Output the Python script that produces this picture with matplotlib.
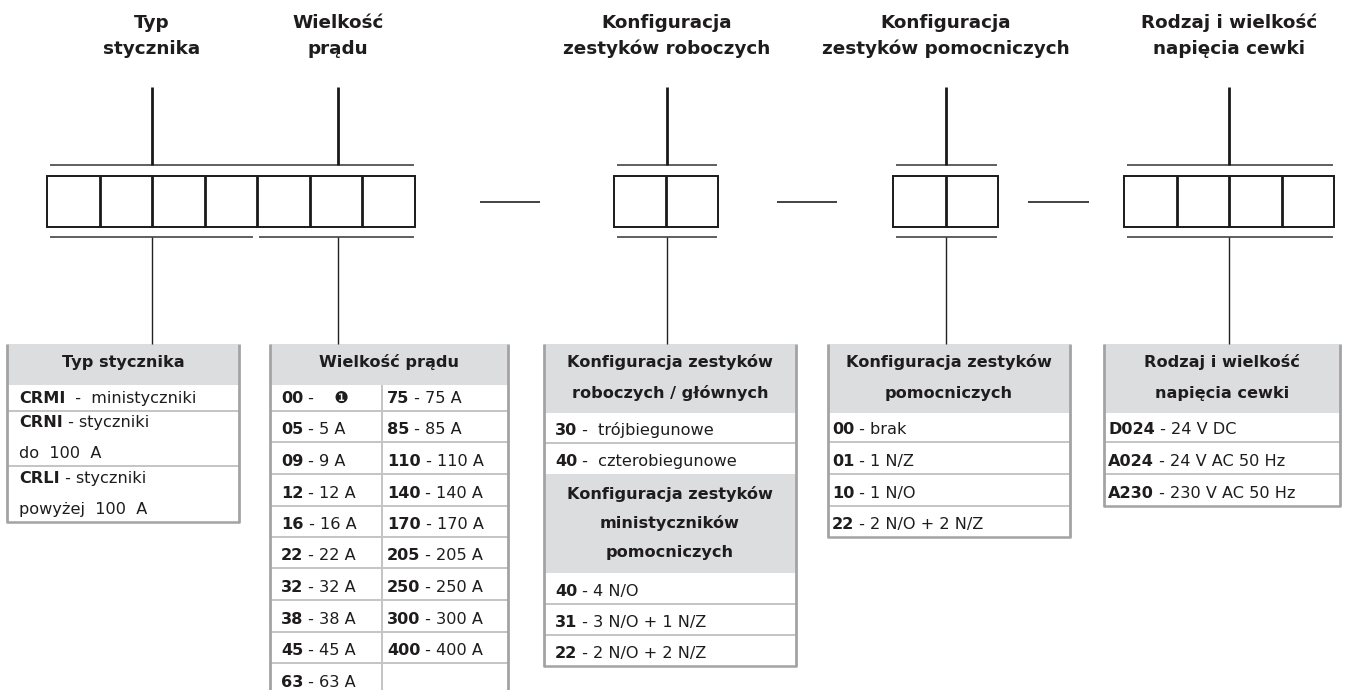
import matplotlib
matplotlib.use('Agg')
import matplotlib.pyplot as plt
from matplotlib.patches import Rectangle

# ---------------- data ----------------
segment_titles = [["Typ", "stycznika"],
                  ["Wielkość", "prądu"],
                  ["Konfiguracja", "zestyków roboczych"],
                  ["Konfiguracja", "zestyków pomocniczych"],
                  ["Rodzaj i wielkość", "napięcia cewki"]]

typ_header = ["Typ stycznika"]
typ_codes = ["CRMI", "CRNI", "CRLI"]
typ_desc = [["  -  ministyczniki"], [" - styczniki", "do  100  A"], [" - styczniki", "powyżej  100  A"]]

prad_header = ["Wielkość prądu"]
prad_codes_left = ["00", "05", "09", "12", "16", "22", "32", "38", "45", "63"]
prad_desc_left = [" -    ❶", " - 5 A", " - 9 A", " - 12 A", " - 16 A", " - 22 A", " - 32 A", " - 38 A", " - 45 A", " - 63 A"]
prad_codes_right = ["75", "85", "110", "140", "170", "205", "250", "300", "400"]
prad_desc_right = [" - 75 A", " - 85 A", " - 110 A", " - 140 A", " - 170 A", " - 205 A", " - 250 A", " - 300 A", " - 400 A"]

robocze_header = ["Konfiguracja zestyków", "roboczych / głównych"]
robocze_codes = ["30", "40"]
robocze_desc = [" -  trójbiegunowe", " -  czterobiegunowe"]
mini_header = ["Konfiguracja zestyków", "ministyczników", "pomocniczych"]
mini_codes = ["40", "31", "22"]
mini_desc = [" - 4 N/O", " - 3 N/O + 1 N/Z", " - 2 N/O + 2 N/Z"]

pomoc_header = ["Konfiguracja zestyków", "pomocniczych"]
pomoc_codes = ["00", "01", "10", "22"]
pomoc_desc = [" - brak", " - 1 N/Z", " - 1 N/O", " - 2 N/O + 2 N/Z"]

cewka_header = ["Rodzaj i wielkość", "napięcia cewki"]
cewka_codes = ["D024", "A024", "A230"]
cewka_desc = [" - 24 V DC", " - 24 V AC 50 Hz", " - 230 V AC 50 Hz"]

# ---------------- layout ----------------
W, H = 1345, 690
fig = plt.figure(figsize=(W / 100, H / 100), dpi=100)
ax = fig.add_axes([0, 0, 1, 1])
ax.set_xlim(0, W)
ax.set_ylim(H, 0)
ax.axis('off')
renderer = fig.canvas.get_renderer()

TXT = '#1f1c1d'
FAM = ['DejaVu Sans']
FS = 11.6
FS_TOP = 13.2
HDR_BG = '#dcdddf'
SIDE = '#a3a3a3'
SEP = '#c4c4c4'


def line(x0, y0, x1, y1, lw=1.0, c='#222222'):
    ax.plot([x0, x1], [y0, y1], color=c, lw=lw, solid_capstyle='butt')


def code_text(x, y, code, desc):
    t = ax.text(x, y, code, fontsize=FS, fontweight='bold', family=FAM, color=TXT,
                ha='left', va='baseline')
    w = t.get_window_extent(renderer).width
    ax.text(x + w, y, desc, fontsize=FS, family=FAM, color=TXT, ha='left', va='baseline')


def plain(x, y, s, bold=False, ha='left', fs=FS):
    ax.text(x, y, s, fontsize=fs, fontweight='bold' if bold else 'normal', family=FAM,
            color=TXT, ha=ha, va='baseline')


# ---- top labels ----
centers = [152, 338, 667, 946, 1229]
for cx, (l1, l2) in zip(centers, segment_titles):
    plain(cx, 28, l1, bold=True, ha='center', fs=FS_TOP)
    plain(cx, 54, l2, bold=True, ha='center', fs=FS_TOP)

# ---- box groups ----
groups = [(47, 7, 52.57), (614, 2, 52), (893, 2, 52.5), (1124, 4, 52.5)]
BY0, BY1 = 176, 227
for x0, n, w in groups:
    x1 = x0 + n * w
    ax.add_patch(Rectangle((x0, BY0), x1 - x0, BY1 - BY0, fill=False, ec='#1a1a1a', lw=1.4))
    for i in range(1, n):
        line(x0 + i * w, BY0, x0 + i * w, BY1, lw=2.0, c='#1a1a1a')
    line(x0 + 3, 165, x1 - 1, 165, lw=1.2, c='#444444')
    if n == 7:
        line(x0 + 3, 237, 253, 237, lw=1.2, c='#444444')
        line(259, 237, x1 - 1, 237, lw=1.2, c='#444444')
    else:
        line(x0 + 3, 237, x1 - 1, 237, lw=1.2, c='#444444')

# dashes between groups
for xa, xb in [(480, 540), (777, 837), (1028, 1089)]:
    line(xa, 202, xb, 202, lw=1.2, c='#222222')

# verticals
for cx in centers:
    line(cx, 87, cx, 165, lw=2.0, c='#1a1a1a')
    line(cx, 237, cx, 344, lw=1.0, c='#222222')

TOP = 344


def table_frame(x0, x1, bottom, headers, seps, draw_bottom=True):
    for (ya, yb) in headers:
        ax.add_patch(Rectangle((x0, ya), x1 - x0, yb - ya, fc=HDR_BG, ec='none'))
    for y in seps:
        line(x0, y, x1, y, lw=1.4, c=SEP)
    if draw_bottom:
        line(x0 - 1, bottom, x1 + 1, bottom, lw=1.8, c=SIDE)
    line(x0, TOP, x0, bottom, lw=2.0, c=SIDE)
    line(x1, TOP, x1, bottom, lw=2.0, c=SIDE)


# ---- table 1: Typ stycznika ----
T1 = (7, 239)
rows1 = [385, 411, 466, 522]
table_frame(T1[0], T1[1], rows1[-1], [(TOP, rows1[0])], rows1[1:-1])
plain((T1[0] + T1[1]) / 2, 367, typ_header[0], bold=True, ha='center')
for i, (c, d) in enumerate(zip(typ_codes, typ_desc)):
    yb = rows1[i + 1] - 8
    if len(d) == 1:
        code_text(T1[0] + 12, yb, c, d[0])
    else:
        code_text(T1[0] + 12, yb - 31, c, d[0])
        plain(T1[0] + 12, yb, d[1])

# ---- table 2: Wielkość prądu ----
T2 = (270, 508)
DIV2 = 382
rows2 = [385, 411, 442, 474, 506, 537, 568, 600, 632, 663, 695]
table_frame(T2[0], T2[1], rows2[-1], [(TOP, rows2[0])], rows2[1:-1], draw_bottom=False)
line(DIV2, rows2[0], DIV2, rows2[-1], lw=1.4, c=SEP)
plain((T2[0] + T2[1]) / 2, 367, prad_header[0], bold=True, ha='center')
for i, (c, d) in enumerate(zip(prad_codes_left, prad_desc_left)):
    code_text(T2[0] + 11, rows2[i + 1] - 8, c, d)
for i, (c, d) in enumerate(zip(prad_codes_right, prad_desc_right)):
    code_text(DIV2 + 5, rows2[i + 1] - 8, c, d)

# ---- table 3: Konfiguracja zestyków roboczych ----
T3 = (544, 796)
h1 = (TOP, 413)
rows3a = [413, 443, 474]
h2 = (474, 573)
rows3b = [573, 604, 635, 666]
table_frame(T3[0], T3[1], rows3b[-1], [h1, h2], [443, 604, 635])
cx3 = (T3[0] + T3[1]) / 2
plain(cx3, 367, robocze_header[0], bold=True, ha='center')
plain(cx3, 398, robocze_header[1], bold=True, ha='center')
for i, (c, d) in enumerate(zip(robocze_codes, robocze_desc)):
    code_text(T3[0] + 11, rows3a[i + 1] - 8, c, d)
for j, s in enumerate(mini_header):
    plain(cx3, 499 + 29 * j, s, bold=True, ha='center')
for i, (c, d) in enumerate(zip(mini_codes, mini_desc)):
    code_text(T3[0] + 11, rows3b[i + 1] - 8, c, d)

# ---- table 4: Konfiguracja zestyków pomocniczych ----
T4 = (828, 1070)
rows4 = [413, 442, 474, 506, 537]
table_frame(T4[0], T4[1], rows4[-1], [(TOP, rows4[0])], rows4[1:-1])
cx4 = (T4[0] + T4[1]) / 2
plain(cx4, 367, pomoc_header[0], bold=True, ha='center')
plain(cx4, 398, pomoc_header[1], bold=True, ha='center')
for i, (c, d) in enumerate(zip(pomoc_codes, pomoc_desc)):
    code_text(T4[0] + 4, rows4[i + 1] - 8, c, d)

# ---- table 5: Rodzaj i wielkość napięcia cewki ----
T5 = (1104, 1340)
rows5 = [413, 442, 474, 506]
table_frame(T5[0], T5[1], rows5[-1], [(TOP, rows5[0])], rows5[1:-1])
cx5 = (T5[0] + T5[1]) / 2
plain(cx5, 367, cewka_header[0], bold=True, ha='center')
plain(cx5, 398, cewka_header[1], bold=True, ha='center')
for i, (c, d) in enumerate(zip(cewka_codes, cewka_desc)):
    code_text(T5[0] + 4, rows5[i + 1] - 8, c, d)

fig.savefig('out.png', dpi=100, facecolor='white')
